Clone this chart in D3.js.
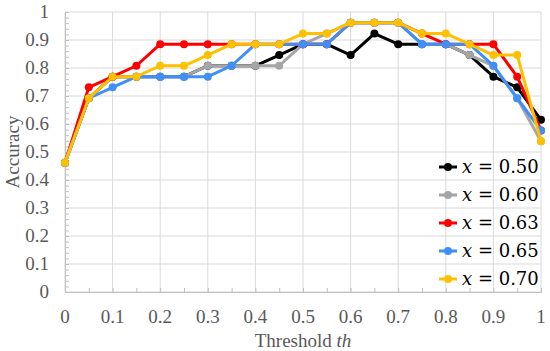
<!DOCTYPE html>
<html>
<head>
<meta charset="utf-8">
<script src="https://cdn.jsdelivr.net/npm/d3@7"></script>
<style>
body { margin:0; background:#fff; }
</style>
</head>
<body>
<svg id="chart" width="550" height="351"></svg>
<script>
// thresholds 0..1 step 0.05
var thresholds = [0,0.05,0.1,0.15,0.2,0.25,0.3,0.35,0.4,0.45,0.5,0.55,0.6,0.65,0.7,0.75,0.8,0.85,0.9,0.95,1]
var names = ["0.50","0.60","0.63","0.65","0.70"]
var colors = ["#000000","#a5a5a5","#ff0000","#3f8ff7","#ffc000"]
var acc050 = [0.462,0.692,0.769,0.769,0.769,0.769,0.808,0.808,0.808,0.846,0.885,0.885,0.846,0.923,0.885,0.885,0.885,0.846,0.769,0.731,0.615]
var acc060 = [0.462,0.692,0.769,0.769,0.769,0.769,0.808,0.808,0.808,0.808,0.885,0.923,0.962,0.962,0.962,0.885,0.885,0.846,0.808,0.692,0.538]
var acc063 = [0.462,0.731,0.769,0.808,0.885,0.885,0.885,0.885,0.885,0.885,0.885,0.885,0.962,0.962,0.962,0.923,0.885,0.885,0.885,0.769,0.577]
var acc065 = [0.462,0.692,0.731,0.769,0.769,0.769,0.769,0.808,0.885,0.885,0.885,0.885,0.962,0.962,0.962,0.885,0.885,0.885,0.808,0.692,0.577]
var acc070 = [0.462,0.692,0.769,0.769,0.808,0.808,0.846,0.885,0.885,0.885,0.923,0.923,0.962,0.962,0.962,0.923,0.923,0.885,0.846,0.846,0.538]
var xTicks = [0,0.1,0.2,0.3,0.4,0.5,0.6,0.7,0.8,0.9,1]
var yTicks = [0,0.1,0.2,0.3,0.4,0.5,0.6,0.7,0.8,0.9,1]

var series = [acc050,acc060,acc063,acc065,acc070]

var svg = d3.select("#chart")
var mLeft = 65, mRight = 541, mTop = 12, mBottom = 292
var x = d3.scaleLinear().domain([0,1]).range([mLeft,mRight])
var y = d3.scaleLinear().domain([0,1]).range([mBottom,mTop])
var textCol = "#595959"
var gridCol = "#d9d9d9"
var fs = 19

// grid
svg.append("g").selectAll("line").data(yTicks).enter().append("line")
	.attr("x1",mLeft).attr("x2",mRight)
	.attr("y1",d=>y(d)).attr("y2",d=>y(d))
	.attr("stroke",gridCol).attr("stroke-width",1)
svg.append("g").selectAll("line").data(xTicks).enter().append("line")
	.attr("x1",d=>x(d)).attr("x2",d=>x(d))
	.attr("y1",mTop).attr("y2",mBottom)
	.attr("stroke",gridCol).attr("stroke-width",1)

// axes (minor ticks only, labels drawn below)
var xAxis = d3.axisBottom(x).tickValues(d3.range(0,1.001,0.05)).tickSize(-4).tickFormat("")
var gx = svg.append("g").attr("transform","translate(0,"+mBottom+")").call(xAxis)
gx.selectAll("path,line").attr("stroke","#bfbfbf")
var yAxis = d3.axisLeft(y).tickValues(d3.range(0,1.001,0.02)).tickSize(-4).tickFormat("")
var gy = svg.append("g").attr("transform","translate("+mLeft+",0)").call(yAxis)
gy.selectAll("path,line").attr("stroke","#bfbfbf")

svg.append("g").selectAll("text").data(xTicks).enter().append("text")
	.attr("x",d=>x(d)).attr("y",323)
	.attr("text-anchor","middle")
	.attr("font-family","Liberation Serif").attr("font-size",fs)
	.attr("fill",textCol)
	.text(d=>d3.format("")(d))
svg.append("g").selectAll("text").data(yTicks).enter().append("text")
	.attr("x",49).attr("y",d=>y(d)+6)
	.attr("text-anchor","end")
	.attr("font-family","Liberation Serif").attr("font-size",fs)
	.attr("fill",textCol)
	.text(d=>d3.format("")(d))

// axis titles
var xt = svg.append("text").attr("x",303).attr("y",347)
	.attr("text-anchor","middle")
	.attr("font-family","Liberation Serif").attr("font-size",fs)
	.attr("fill",textCol)
xt.append("tspan").text("Threshold ")
xt.append("tspan").attr("font-style","italic").text("th")
svg.append("text")
	.attr("transform","translate(19,152) rotate(-90)")
	.attr("text-anchor","middle")
	.attr("font-family","Liberation Serif").attr("font-size",fs)
	.attr("fill",textCol)
	.text("Accuracy")

// lines
var line = d3.line().x((d,i)=>x(thresholds[i])).y(d=>y(d))
series.forEach(function(s,k){
	svg.append("path").datum(s)
		.attr("d",line)
		.attr("fill","none")
		.attr("stroke",colors[k])
		.attr("stroke-width",3)
		.attr("stroke-linejoin","round")
	svg.append("g").selectAll("circle").data(s).enter().append("circle")
		.attr("cx",(d,i)=>x(thresholds[i]))
		.attr("cy",d=>y(d))
		.attr("r",4)
		.attr("fill",colors[k])
})

// legend
var legend = svg.append("g")
names.forEach(function(n,k){
	var ly = 167 + k*28
	legend.append("line").attr("x1",439).attr("x2",457).attr("y1",ly).attr("y2",ly)
		.attr("stroke",colors[k]).attr("stroke-width",3)
	legend.append("circle").attr("cx",448).attr("cy",ly).attr("r",4).attr("fill",colors[k])
	var t = legend.append("text").attr("x",462).attr("y",ly+6)
		.attr("font-family","DejaVu Serif").attr("font-size",18)
		.attr("fill","#000")
	t.append("tspan").attr("font-style","italic").text("x")
	t.append("tspan").text(" = " + n)
})
</script>
</body>
</html>
